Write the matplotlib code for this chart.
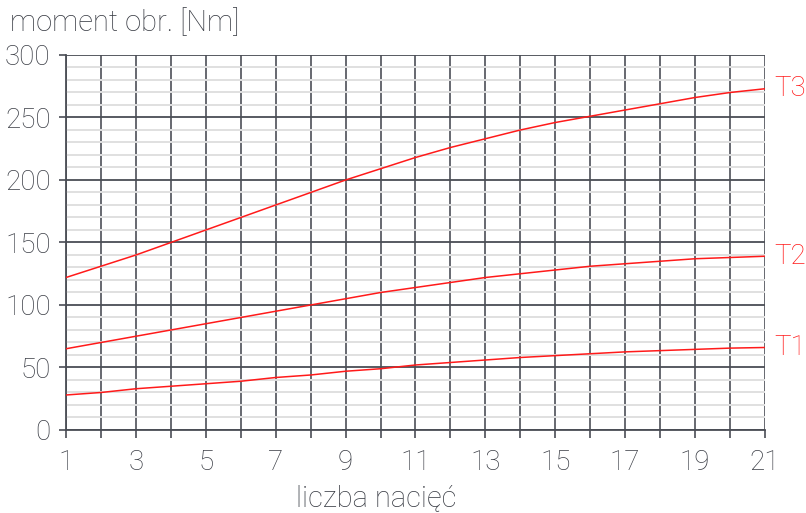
import numpy as np
import matplotlib
matplotlib.use("Agg")
import matplotlib.pyplot as plt

# ─── Data ─────────────────────────────────────────────────────────────────────
cuts = list(range(1, 22))
t1 = [28, 30, 33, 35, 37, 39, 42, 44, 47, 49, 52, 54, 56, 58, 59.5, 61, 62.5, 63.5, 64.5, 65.5, 66]
t2 = [65, 70, 75, 80, 85, 90, 95, 100, 105, 110, 114, 118, 122, 125, 128, 131, 133, 135, 137, 138, 139]
t3 = [122, 131, 140, 150, 160, 170, 180, 190, 200, 209, 218, 226, 233, 240, 246, 251, 256, 261, 266, 270, 273]
series = {"T1": t1, "T2": t2, "T3": t3}

x_ticklabels = list(range(1, 22, 2))
y_ticks = list(range(0, 301, 50))

TXT = "#3a3d45"
RED = "#ff1a1a"
plt.rcParams["font.family"] = ["Roboto", "DejaVu Sans"]
plt.rcParams["font.weight"] = "light"
FS = 20

fig = plt.figure(figsize=(8.06, 5.13), dpi=100)
ax = fig.add_axes([0.0819, 0.1618, 0.8672, 0.731])

ax.set_xlim(1, 21)
ax.set_ylim(0, 300)

# grid: light every 10, dark every 50, dark verticals every 1
ax.set_yticks(np.arange(0, 301, 10), minor=True)
ax.set_yticks(y_ticks)
ax.set_xticks(cuts)
ax.grid(which="minor", axis="y", color="#e0e0e0", lw=1.4)
ax.grid(which="major", axis="y", color="#4a4d55", lw=1.3)
ax.grid(which="major", axis="x", color="#5a5d65", lw=1.3)
ax.set_axisbelow(True)

for name, vals in series.items():
    ax.plot(cuts, vals, color=RED, lw=1.1, zorder=3)
    ax.text(21.28, vals[-1], name, color=RED, fontsize=FS, va="center",
            ha="left")

ax.set_xticklabels([str(c) if c in x_ticklabels else "" for c in cuts])
ax.tick_params(axis="x", which="major", length=6, width=1.2, color="#4a4d55",
               labelsize=FS, labelcolor=TXT, pad=8)
ax.tick_params(axis="y", which="major", length=5, width=1.2, color="#4a4d55",
               labelsize=FS, labelcolor=TXT, pad=6)
ax.tick_params(axis="y", which="minor", length=0)

for side in ["top", "right"]:
    ax.spines[side].set_visible(False)
ax.spines["left"].set_color("#4a4d55")
ax.spines["bottom"].set_color("#4a4d55")
ax.spines["left"].set_linewidth(1.3)
ax.spines["bottom"].set_linewidth(1.3)

fig.text(0.013, 0.955, "moment obr. [Nm]", fontsize=21, color=TXT,
         va="center", ha="left")
fig.text(0.467, 0.03, "liczba nacięć", fontsize=21, color=TXT,
         va="center", ha="center")

fig.savefig("out.png", dpi=100)
